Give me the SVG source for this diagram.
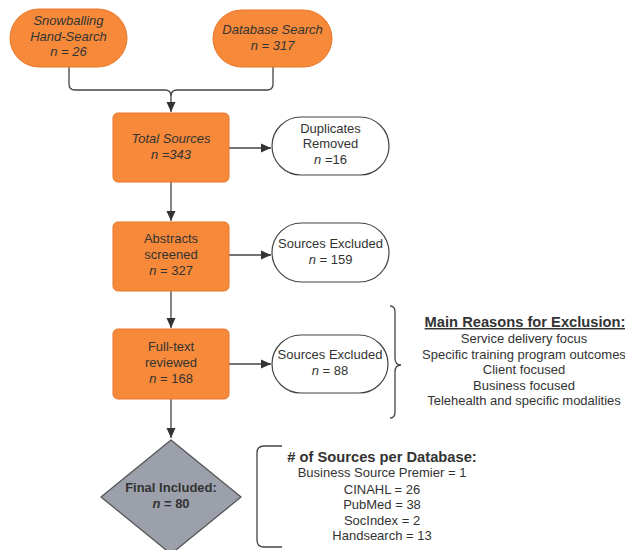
<svg xmlns="http://www.w3.org/2000/svg" width="625" height="550" viewBox="0 0 625 550">
<style>
text{font-family:"Liberation Sans",Arial,sans-serif;font-size:13px;fill:#333;text-anchor:middle}
.it{font-style:italic}
.b{font-weight:bold}
.h{font-weight:bold;font-size:14.7px}
.or{fill:#F68A3A;stroke:#E8772A;stroke-width:1}
.wh{fill:#fff;stroke:#444;stroke-width:1.2}
.ln{fill:none;stroke:#444;stroke-width:1.3}
</style>
<defs>
<marker id="ah" viewBox="0 0 10 10" refX="10" refY="5" markerWidth="10" markerHeight="10" markerUnits="userSpaceOnUse" orient="auto">
<path d="M0,0.5 L10,5 L0,9.5 z" fill="#333"/>
</marker>
</defs>
<rect width="625" height="550" fill="#fff"/>
<g id="connectors">
<path class="ln" d="M69,67 V84 Q69,90 75,90 H165 Q171,90 171,96 V112" marker-end="url(#ah)"/>
<path class="ln" d="M273,67 V84 Q273,90 267,90 H177 Q171,90 171,96"/>
<path class="ln" d="M229,148 H271" marker-end="url(#ah)"/>
<path class="ln" d="M171,182 V221" marker-end="url(#ah)"/>
<path class="ln" d="M229,255 H271" marker-end="url(#ah)"/>
<path class="ln" d="M171,291 V328" marker-end="url(#ah)"/>
<path class="ln" d="M229,364 H271" marker-end="url(#ah)"/>
<path class="ln" d="M171,399 V438" marker-end="url(#ah)"/>
</g>
<g id="snowballing">
<rect class="or" x="10" y="9" width="117" height="58" rx="29"/>
<text class="it" x="68.5" y="25">Snowballing</text>
<text class="it" x="68.5" y="41">Hand-Search</text>
<text class="it" x="68.5" y="56">n = 26</text>
</g>
<g id="database">
<rect class="or" x="213" y="10" width="119" height="57" rx="28.5"/>
<text class="it" x="272.5" y="34">Database Search</text>
<text class="it" x="272.5" y="50">n = 317</text>
</g>
<g id="total">
<rect class="or" x="113" y="113" width="116" height="69" rx="5"/>
<text class="it" x="171" y="143">Total Sources</text>
<text class="it" x="171" y="159">n =343</text>
</g>
<g id="duplicates">
<rect class="wh" x="272" y="117" width="117" height="58" rx="29"/>
<text x="330.5" y="133">Duplicates</text>
<text x="330.5" y="148">Removed</text>
<text x="330.5" y="164"><tspan class="it">n</tspan> =16</text>
</g>
<g id="abstracts">
<rect class="or" x="113" y="222" width="116" height="69" rx="5"/>
<text x="171" y="243">Abstracts</text>
<text x="171" y="259">screened</text>
<text x="171" y="275"><tspan class="it">n</tspan> = 327</text>
</g>
<g id="excluded1">
<rect class="wh" x="272" y="223" width="117" height="59" rx="29.5"/>
<text x="330.5" y="248">Sources Excluded</text>
<text x="330.5" y="264"><tspan class="it">n</tspan> = 159</text>
</g>
<g id="fulltext">
<rect class="or" x="113" y="329" width="116" height="70" rx="5"/>
<text x="171" y="351">Full-text</text>
<text x="171" y="367">reviewed</text>
<text x="171" y="383"><tspan class="it">n</tspan> = 168</text>
</g>
<g id="excluded2">
<rect class="wh" x="272" y="335" width="116" height="58" rx="29"/>
<text x="330" y="359">Sources Excluded</text>
<text x="330" y="375"><tspan class="it">n</tspan> = 88</text>
</g>
<g id="final">
<path d="M171,440 L241,497 L171,554 L101,497 Z" fill="#9BA0AA" stroke="#555" stroke-width="1.3" stroke-linejoin="round"/>
<text class="b" x="171" y="492">Final Included:</text>
<text class="b" x="171" y="508"><tspan class="it">n</tspan> = 80</text>
</g>
<g id="reasons">
<path class="ln" d="M390,306 Q395,306 395,312 V358 Q395,365 401,365 Q395,365 395,372 V412 Q395,418 390,418" stroke-width="1"/>
<text class="h" x="525" y="327" text-decoration="underline">Main Reasons for Exclusion:</text>
<text x="524" y="343">Service delivery focus</text>
<text x="524" y="359">Specific training program outcomes</text>
<text x="524" y="374">Client focused</text>
<text x="524" y="390">Business focused</text>
<text x="524" y="405">Telehealth and specific modalities</text>
</g>
<g id="perdatabase">
<path class="ln" d="M282,446 H264 Q257,446 257,453 V540 Q257,547 264,547 H282" stroke-width="1"/>
<text class="h" x="382" y="462"># of Sources per Database:</text>
<text x="382" y="477">Business Source Premier = 1</text>
<text x="382" y="494">CINAHL = 26</text>
<text x="382" y="509">PubMed = 38</text>
<text x="382" y="525">SocIndex = 2</text>
<text x="382" y="540">Handsearch = 13</text>
</g>
</svg>
